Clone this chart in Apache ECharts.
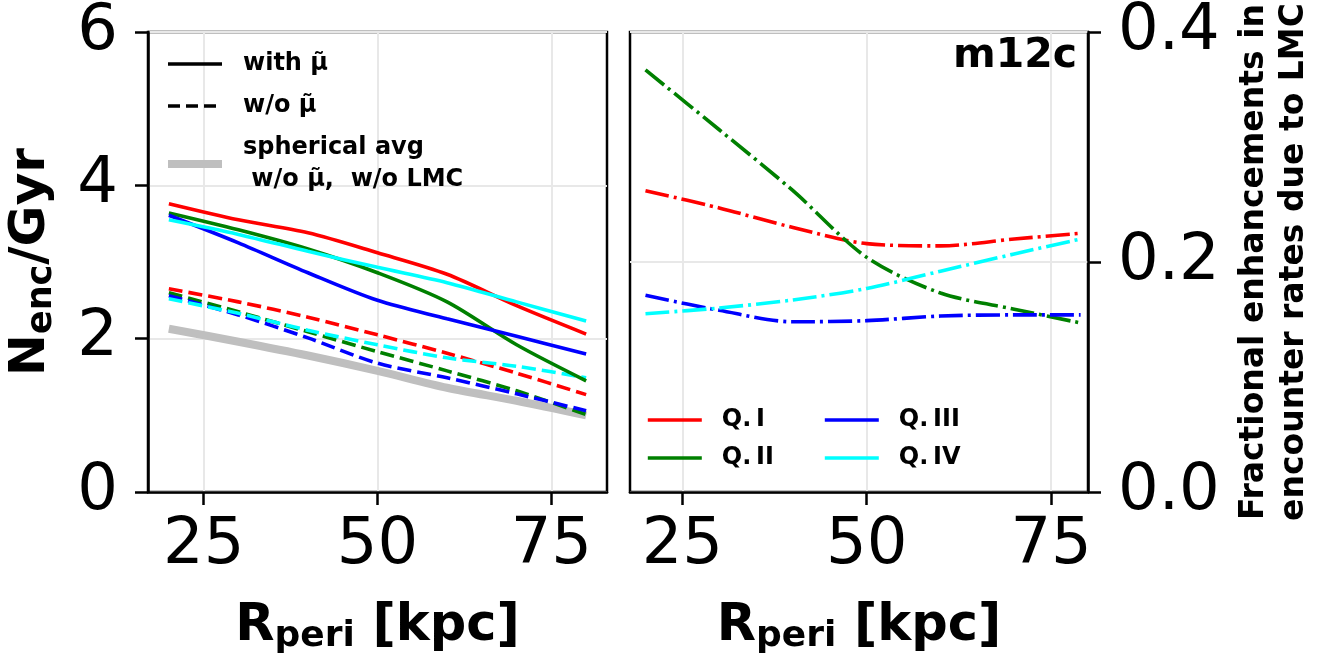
<!DOCTYPE html>
<html><head><meta charset="utf-8">
<script src="https://cdn.jsdelivr.net/npm/echarts@6/dist/echarts.min.js"></script>
<style>html,body{margin:0;padding:0;background:#fff}#c{width:1332px;height:663px}</style>
</head><body><div id="c"></div>
<script>
// ---- data ----
const rPeri = [20, 30, 40, 50, 60, 70, 80];
const withMu_QI   = [3.76, 3.55, 3.38, 3.12, 2.84, 2.43, 2.06];
const withMu_QII  = [3.64, 3.42, 3.17, 2.86, 2.48, 1.92, 1.45];
const withMu_QIII = [3.61, 3.25, 2.86, 2.50, 2.26, 2.03, 1.80];
const withMu_QIV  = [3.55, 3.36, 3.14, 2.93, 2.73, 2.48, 2.23];
const woMu_QI     = [2.65, 2.48, 2.28, 2.05, 1.81, 1.55, 1.27];
const woMu_QII    = [2.60, 2.35, 2.09, 1.83, 1.58, 1.32, 1.01];
const woMu_QIII   = [2.56, 2.31, 2.01, 1.68, 1.49, 1.28, 1.06];
const woMu_QIV    = [2.52, 2.33, 2.11, 1.92, 1.75, 1.64, 1.49];
const sphericalAvg = [2.13, 1.96, 1.78, 1.58, 1.36, 1.19, 1.00];

const rPeriFrac = [20, 30, 40, 50, 60, 70, 79];
const frac_QI   = [0.262, 0.247, 0.230, 0.216, 0.214, 0.220, 0.225];
const frac_QII  = [0.367, 0.315, 0.262, 0.204, 0.173, 0.159, 0.147];
const frac_QIII = [0.171, 0.158, 0.148, 0.149, 0.153, 0.154, 0.154];
const frac_QIV  = [0.155, 0.160, 0.167, 0.177, 0.192, 0.207, 0.220];

const xTicks = [25, 50, 75];
const quadNames = ['Q.\u2009I', 'Q.\u2009II', 'Q.\u2009III', 'Q.\u2009IV'];
const quadColors = ['#ff0000', '#008000', '#0000ff', '#00ffff'];
const legendLeftNames = ['with \u03bc\u0303', 'w/o \u03bc\u0303', 'spherical avg\n w/o \u03bc\u0303,  w/o LMC'];
const panelLabel = 'm12c';

// ---- chart ----
const FF = 'DejaVu Sans';
const withMu = [withMu_QI, withMu_QII, withMu_QIII, withMu_QIV];
const woMu = [woMu_QI, woMu_QII, woMu_QIII, woMu_QIV];
const frac = [frac_QI, frac_QII, frac_QIII, frac_QIV];

function pairs(xs, ys) { return xs.map((x, i) => [x, ys[i]]); }
function line(name, xs, ys, color, type, width, idx, z) {
  return {
    type: 'line', name, xAxisIndex: idx, yAxisIndex: idx,
    data: pairs(xs, ys), smooth: 0.3, symbol: 'none', z: z,
    lineStyle: { color, width, type, cap: 'butt' }, itemStyle: { color },
    emphasis: { disabled: true }, silent: true, animation: false
  };
}

const series = [];
series.push(line(legendLeftNames[2], rPeri, sphericalAvg, '#bfbfbf', 'solid', 8, 0, 1));
for (let q = 0; q < 4; q++) series.push(line('dashed ' + q, rPeri, woMu[q], quadColors[q], [14, 6], 3.6, 0, 2));
for (let q = 0; q < 4; q++) series.push(line('solid ' + q, rPeri, withMu[q], quadColors[q], 'solid', 3.6, 0, 3));
for (let q = 0; q < 4; q++) series.push(line(quadNames[q], rPeriFrac, frac[q], quadColors[q], [24, 5, 3, 5], 3.6, 1, 3));
// legend proxies
series.push({ type: 'line', name: legendLeftNames[0], xAxisIndex: 0, yAxisIndex: 0, data: [], symbol: 'none', lineStyle: { color: '#000', width: 3.6, type: 'solid' }, itemStyle: { color: '#000' } });
series.push({ type: 'line', name: legendLeftNames[1], xAxisIndex: 0, yAxisIndex: 0, data: [], symbol: 'none', lineStyle: { color: '#000', width: 3.6, type: [12, 6] }, itemStyle: { color: '#000' } });

const axisLineStyle = { show: true, lineStyle: { color: '#000', width: 2.5 } };
const tickStyle = { show: true, inside: false, length: 13, lineStyle: { color: '#000', width: 2.5 } };
const splitStyle = { show: true, lineStyle: { color: '#e8e8e8', width: 2 } };
const xNameStyle = {
  fontFamily: FF, fontWeight: 'bold', fontSize: 51, color: '#000',
  rich: {
    b: { fontFamily: FF, fontWeight: 'bold', fontSize: 51, color: '#000', lineHeight: 56 },
    s: { fontFamily: FF, fontWeight: 'bold', fontSize: 36, color: '#000', verticalAlign: 'bottom', lineHeight: 30 }
  }
};

function xAxis(idx, min, max) {
  return {
    gridIndex: idx, type: 'value', min, max,
    axisLine: axisLineStyle,
    axisTick: Object.assign({ customValues: xTicks }, tickStyle),
    axisLabel: { customValues: xTicks, fontFamily: FF, fontSize: 64, color: '#000', margin: 22 },
    splitLine: splitStyle,
    name: '{b|R}{s|peri}{b| [kpc]}', nameLocation: 'middle', nameGap: 107,
    nameMoveOverlap: false, nameTextStyle: xNameStyle
  };
}

const legendCommon = {
  orient: 'vertical', padding: 0, itemWidth: 54, itemHeight: 14, itemGap: 10,
  selectedMode: false, itemStyle: { opacity: 0, borderWidth: 0 }
};

const option = {
  backgroundColor: '#fff',
  animation: false,
  textStyle: { fontFamily: FF },
  grid: [
    { left: 148, top: 26, width: 459, height: 466, show: true, borderColor: '#000', borderWidth: 2.5, backgroundColor: 'transparent', containLabel: false },
    { left: 630, top: 26, width: 458, height: 466, show: true, borderColor: '#000', borderWidth: 2.5, backgroundColor: 'transparent', containLabel: false }
  ],
  xAxis: [xAxis(0, 17, 83), xAxis(1, 17.9, 80)],
  yAxis: [
    {
      gridIndex: 0, type: 'value', min: 0, max: 6, interval: 2,
      axisLine: axisLineStyle, axisTick: tickStyle, splitLine: splitStyle,
      axisLabel: { fontFamily: FF, fontSize: 64, color: '#000', margin: 30 },
      name: '{b|N}{s|enc}{b|/Gyr}', nameLocation: 'middle', nameRotate: 90, nameGap: 89,
      nameMoveOverlap: false,
      nameTextStyle: {
        fontFamily: FF, fontWeight: 'bold', fontSize: 50, color: '#000',
        rich: {
          b: { fontFamily: FF, fontWeight: 'bold', fontSize: 50, color: '#000', lineHeight: 56 },
          s: { fontFamily: FF, fontWeight: 'bold', fontSize: 35, color: '#000', verticalAlign: 'bottom', lineHeight: 30 }
        }
      }
    },
    {
      gridIndex: 1, type: 'value', position: 'right', min: 0, max: 0.4, interval: 0.2,
      axisLine: axisLineStyle, axisTick: tickStyle, splitLine: splitStyle,
      axisLabel: { fontFamily: FF, fontSize: 64, color: '#000', margin: 30, formatter: v => v.toFixed(1) },
      name: 'Fractional enhancements in\nencounter rates due to LMC',
      nameLocation: 'middle', nameRotate: 90, nameGap: 146, nameMoveOverlap: false,
      nameTextStyle: { fontFamily: FF, fontWeight: 'bold', fontSize: 33, lineHeight: 40, color: '#000' }
    }
  ],
  title: {
    text: panelLabel, right: 1332 - 1077, top: 36, padding: 0,
    textStyle: { fontFamily: FF, fontWeight: 'bold', fontSize: 41, color: '#000' }
  },
  legend: [
    Object.assign({}, legendCommon, {
      left: 164, top: 48, data: legendLeftNames,
      lineStyle: { width: 'inherit' },
      textStyle: { fontFamily: FF, fontWeight: 'bold', fontSize: 24, lineHeight: 32, color: '#000', padding: [0, 0, 0, 16] }
    }),
    Object.assign({}, legendCommon, {
      left: 646, top: 406, data: [quadNames[0], quadNames[1]],
      lineStyle: { width: 3.6, type: 'solid' },
      textStyle: { fontFamily: FF, fontWeight: 'bold', fontSize: 24, lineHeight: 28, color: '#000', padding: [0, 0, 0, 15] }
    }),
    Object.assign({}, legendCommon, {
      left: 823, top: 406, data: [quadNames[2], quadNames[3]],
      lineStyle: { width: 3.6, type: 'solid' },
      textStyle: { fontFamily: FF, fontWeight: 'bold', fontSize: 24, lineHeight: 28, color: '#000', padding: [0, 0, 0, 15] }
    })
  ],
  series
};

const chart = echarts.init(document.getElementById('c'), null, { renderer: 'canvas' });
chart.setOption(option);
</script>
</body></html>
